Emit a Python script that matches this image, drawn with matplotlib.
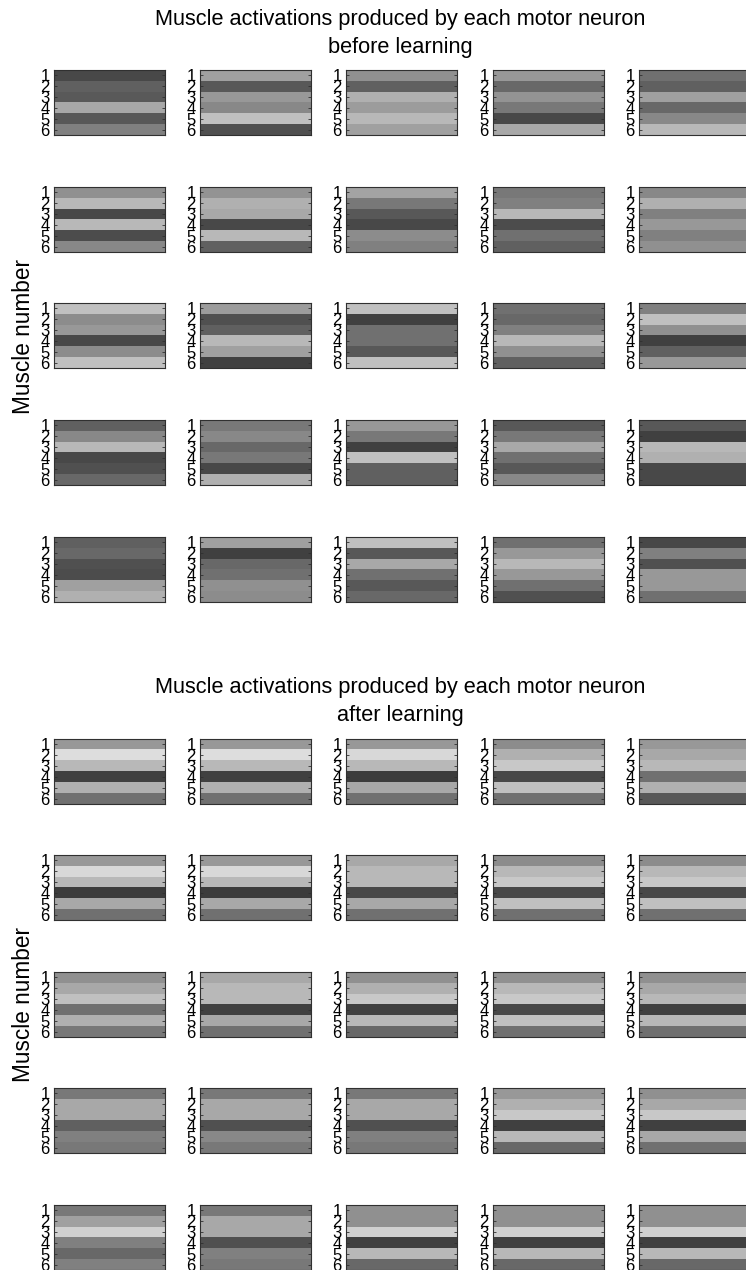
import numpy as np
import matplotlib
matplotlib.use("Agg")
import matplotlib.pyplot as plt
from matplotlib import font_manager

plt.rcParams['font.family'] = ['Liberation Sans', 'DejaVu Sans']
_names = {f.name for f in font_manager.fontManager.ttflist}
tick_family = ['Liberation Sans Narrow', 'Liberation Sans'] if 'Liberation Sans Narrow' in _names else ['Liberation Sans']

muscles = [1, 2, 3, 4, 5, 6]
title_line = "Muscle activations produced by each motor neuron"
phase_labels = ["before learning", "after learning"]
ylabel_text = "Muscle number"

# activation intensity per motor neuron (rows of 5 neurons), per muscle 1..6 (0-255 scale)
before_r1 = [[72, 96, 90, 168, 88, 128], [160, 88, 152, 136, 192, 80], [144, 96, 176, 156, 184, 160],
             [152, 104, 148, 120, 72, 168], [112, 96, 160, 104, 136, 184]]
before_r2 = [[144, 184, 72, 184, 76, 136], [148, 176, 168, 72, 184, 96], [164, 120, 88, 72, 140, 128],
             [120, 128, 184, 76, 112, 96], [136, 176, 128, 152, 128, 144]]
before_r3 = [[192, 140, 152, 72, 140, 192], [156, 80, 96, 184, 160, 64], [192, 64, 112, 112, 88, 192],
             [112, 104, 128, 184, 144, 96], [128, 192, 144, 64, 96, 152]]
before_r4 = [[96, 136, 184, 72, 80, 104], [120, 136, 104, 120, 72, 176], [152, 120, 64, 192, 96, 96],
             [88, 120, 168, 112, 88, 136], [88, 64, 184, 176, 72, 72]]
before_r5 = [[96, 104, 80, 76, 160, 176], [160, 64, 104, 112, 144, 140], [192, 88, 168, 112, 88, 104],
             [112, 152, 184, 152, 112, 80], [72, 128, 80, 152, 152, 112]]

after_r1 = [[152, 221, 184, 64, 176, 112], [152, 221, 184, 64, 176, 112], [152, 216, 184, 60, 168, 112],
            [140, 176, 200, 72, 192, 112], [152, 168, 184, 112, 176, 88]]
after_r2 = [[152, 216, 184, 60, 168, 112], [152, 216, 184, 60, 168, 112], [168, 184, 184, 72, 168, 112],
            [140, 184, 200, 72, 192, 112], [140, 184, 200, 72, 192, 112]]
after_r3 = [[144, 168, 192, 112, 176, 120], [168, 184, 184, 64, 168, 112], [144, 176, 200, 64, 184, 104],
            [144, 184, 200, 72, 192, 112], [144, 168, 184, 64, 184, 112]]
after_r4 = [[120, 168, 168, 96, 128, 120], [120, 168, 168, 80, 136, 120], [120, 168, 168, 80, 128, 120],
            [152, 176, 200, 64, 184, 104], [144, 168, 200, 64, 168, 112]]
after_r5 = [[120, 160, 208, 128, 104, 128], [120, 168, 168, 80, 128, 120], [144, 144, 208, 64, 184, 104],
            [144, 144, 208, 64, 184, 104], [144, 144, 208, 64, 184, 104]]

before = [before_r1, before_r2, before_r3, before_r4, before_r5]
after = [after_r1, after_r2, after_r3, after_r4, after_r5]

W, H = 746, 1270
fig = plt.figure(figsize=(W / 100, H / 100), dpi=100)

col_left = [54, 200, 346, 493, 639]
pw, ph = 111, 65
grids = [
    (before, [70, 187, 303, 420, 537], 20, 48, phase_labels[0], 337),
    (after, [739, 855, 972, 1088, 1205], 688, 716, phase_labels[1], 1005),
]

for data, tops, t1, t2, sub, ylab_y in grids:
    fig.text(400 / W, 1 - t1 / H, title_line, ha='center', va='center', fontsize=15.7)
    fig.text(400 / W, 1 - t2 / H, sub, ha='center', va='center', fontsize=15.7)
    fig.text(24 / W, 1 - ylab_y / H, ylabel_text, ha='center', va='center',
             rotation=90, fontsize=16.3)
    for r, top in enumerate(tops):
        for c, left in enumerate(col_left):
            ax = fig.add_axes([left / W, 1 - (top + ph) / H, pw / W, ph / H])
            vals = np.array(data[r][c], dtype=float).reshape(len(muscles), 1)
            ax.imshow(vals, cmap='gray', vmin=0, vmax=255, aspect='auto',
                      interpolation='nearest',
                      extent=[0.5, 1.5, len(muscles) + 0.5, 0.5])
            ax.set_xticks([])
            ax.set_yticks(muscles)
            ax.set_yticklabels([str(m) for m in muscles], fontsize=12, family=tick_family)
            ax.tick_params(axis='y', direction='in', length=2, width=0.6, pad=3,
                           left=True, right=True, colors='#303030', labelcolor='black')
            for s in ax.spines.values():
                s.set_color('#303030')
                s.set_linewidth(0.8)

fig.savefig('out.png', dpi=100)
